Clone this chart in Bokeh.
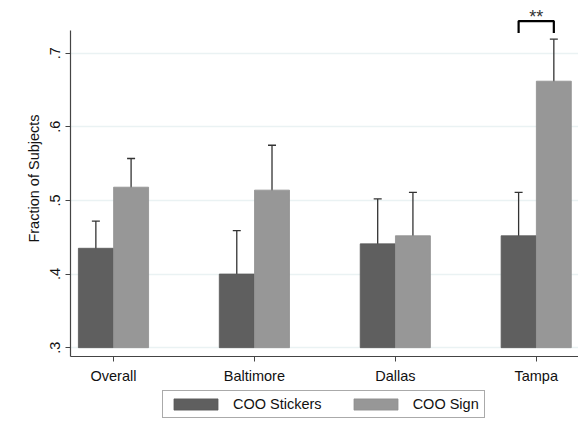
from bokeh.plotting import figure
from bokeh.layouts import column
from bokeh.models import (ColumnDataSource, Range1d, FixedTicker, Whisker, TeeHead,
                          CustomJSTickFormatter, Legend, LegendItem)
from bokeh.core.properties import value
from bokeh.embed import file_html
from bokeh.resources import INLINE
import numpy as np

categories = ["Overall", "Baltimore", "Dallas", "Tampa"]
series = ["COO Stickers", "COO Sign"]
stickers = [0.435, 0.400, 0.441, 0.452]
stickers_lo = [0.398, 0.341, 0.381, 0.393]
stickers_hi = [0.472, 0.459, 0.502, 0.511]
sign = [0.518, 0.514, 0.452, 0.662]
sign_lo = [0.480, 0.454, 0.393, 0.605]
sign_hi = [0.557, 0.575, 0.511, 0.719]
y_ticks = [0.3, 0.4, 0.5, 0.6, 0.7]
bracket_y = [0.7275, 0.7436]
star_y = 0.749
star_text = "**"

FONT = "Liberation Sans"
DARK = "#5f5f5f"
LIGHT = "#979797"

idx = np.arange(len(categories))
off = 0.125
bw = 0.248

p = figure(width=578, height=386, output_backend="svg", toolbar_location=None,
           x_range=Range1d(-0.305, 3.3), y_range=Range1d(0.288, 0.7716),
           min_border_left=70, min_border_right=0, min_border_top=0, min_border_bottom=28)
p.outline_line_color = None
p.background_fill_color = "white"
p.border_fill_color = "white"

src_a = ColumnDataSource(dict(x=idx - off, top=stickers, lo=stickers_lo, hi=stickers_hi))
src_b = ColumnDataSource(dict(x=idx + off, top=sign, lo=sign_lo, hi=sign_hi))

r_a = p.vbar(x="x", top="top", bottom=0.3, width=bw, source=src_a,
             fill_color=DARK, line_color="#595959", line_width=0.8)
r_b = p.vbar(x="x", top="top", bottom=0.3, width=bw, source=src_b,
             fill_color=LIGHT, line_color="#8f8f8f", line_width=0.8)

for s in (src_a, src_b):
    w = Whisker(base="x", lower="lo", upper="hi", source=s, line_color="#333333", line_width=1.3,
                upper_head=TeeHead(size=8, line_color="#333333", line_width=1.3),
                lower_head=TeeHead(size=8, line_color="#333333", line_width=1.3))
    p.add_layout(w)

# significance bracket on Tampa
t = len(categories) - 1
bx = [t - off, t - off, t + off, t + off]
by = [bracket_y[0], bracket_y[1], bracket_y[1], bracket_y[0]]
p.line(bx, by, line_color="black", line_width=2.2)
p.text(x=[t], y=[star_y], text=[star_text], text_align="center", text_baseline="alphabetic",
       text_font=value(FONT), text_font_size="18px", text_color="#333333")

# axes
p.xaxis.ticker = FixedTicker(ticks=list(idx))
p.xaxis.major_label_overrides = {int(i): c for i, c in zip(idx, categories)}
p.yaxis.ticker = FixedTicker(ticks=y_ticks)
p.yaxis.formatter = CustomJSTickFormatter(code="return tick.toFixed(1).replace(/^0/, '');")
p.yaxis.bounds = (0.288, 0.731)
p.yaxis.major_label_orientation = "vertical"
p.yaxis.axis_label = "Fraction of Subjects"
for ax in (p.xaxis, p.yaxis):
    ax.major_label_text_font = FONT
    ax.major_label_text_font_size = "14.5px"
    ax.major_label_text_color = "#111111"
    ax.axis_line_color = "#444444"
    ax.axis_line_width = 1.2
    ax.major_tick_line_color = "#444444"
    ax.major_tick_out = 5
    ax.major_tick_in = 0
    ax.minor_tick_line_color = None
p.yaxis.axis_label_text_font = FONT
p.yaxis.axis_label_text_font_size = "14.5px"
p.yaxis.axis_label_text_font_style = "normal"
p.yaxis.axis_label_text_color = "#111111"
p.yaxis.axis_label_standoff = 6
p.xaxis.major_label_standoff = 6

p.xgrid.grid_line_color = None
p.ygrid.grid_line_color = "#eaf2f3"
p.ygrid.grid_line_width = 1.5

# legend strip below the plot (proxy renderers of zero size, only used for the key)
lf = figure(width=578, height=46, output_backend="svg", toolbar_location=None,
            x_range=Range1d(0, 1), y_range=Range1d(0, 1),
            x_axis_type=None, y_axis_type=None,
            min_border_left=0, min_border_right=0, min_border_top=0, min_border_bottom=0)
lf.outline_line_color = None
lf.xgrid.visible = False
lf.ygrid.visible = False
d_a = lf.vbar(x=[0.5], top=[0.0], bottom=[0.0], width=0.0,
              fill_color=DARK, line_color="#595959", line_width=0.8)
d_b = lf.vbar(x=[0.5], top=[0.0], bottom=[0.0], width=0.0,
              fill_color=LIGHT, line_color="#8f8f8f", line_width=0.8)

legend = Legend(items=[LegendItem(label=series[0], renderers=[d_a]),
                       LegendItem(label=series[1], renderers=[d_b])],
                orientation="horizontal", location=(92, 14))
legend.label_text_font = FONT
legend.label_text_font_size = "14.5px"
legend.label_text_color = "#111111"
legend.glyph_width = 55
legend.glyph_height = 14
legend.label_height = 14
legend.label_standoff = 10
legend.spacing = 26
legend.padding = 5
legend.margin = 0
legend.border_line_color = "#555555"
legend.border_line_width = 1
lf.add_layout(legend, "center")

layout = column(p, lf, spacing=0)
open("out.html", "w").write(file_html(layout, INLINE))
